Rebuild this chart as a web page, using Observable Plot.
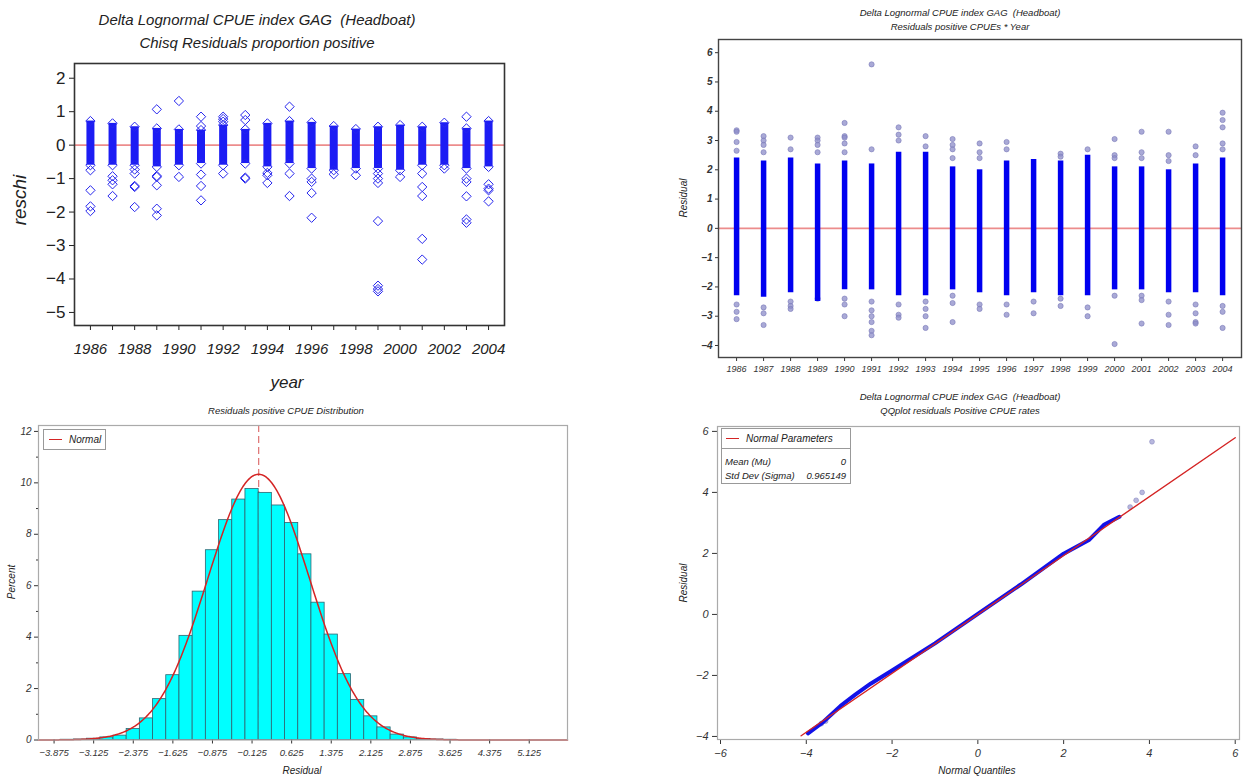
<!DOCTYPE html>
<html><head><meta charset="utf-8">
<script src="https://cdn.jsdelivr.net/npm/d3@7"></script>
<script src="https://cdn.jsdelivr.net/npm/@observablehq/plot@0.6"></script>
<style>
body{margin:0;background:#fff;width:1244px;height:778px;overflow:hidden;position:relative;font-family:"Liberation Sans",Arial,sans-serif;}
.abs{position:absolute;}
.t{position:absolute;font-style:italic;white-space:pre;color:#222;transform:translate(-50%,-50%);line-height:1;}
.l{position:absolute;font-style:italic;white-space:pre;color:#222;transform:translate(0,-50%);line-height:1;}
.r{position:absolute;font-style:italic;white-space:pre;color:#222;transform:translate(-100%,-50%);line-height:1;}
svg{overflow:visible;}
</style></head><body>
<div id="p1" class="abs" style="left:0;top:0"></div>
<div id="p2" class="abs" style="left:640px;top:0"></div>
<div id="p3" class="abs" style="left:0;top:395px"></div>
<div id="p4" class="abs" style="left:660px;top:395px"></div>
<script>
// ---------- Panel 1: Chisq residuals proportion positive ----------
const years = [1986,1987,1988,1989,1990,1991,1992,1993,1994,1995,1996,1997,1998,1999,2000,2001,2002,2003,2004];
const yearLabels = [1986,1988,1990,1992,1994,1996,1998,2000,2002,2004];
const p1YTicks = [-5,-4,-3,-2,-1,0,1,2];
const p1BandHigh = [0.72,0.65,0.55,0.5,0.47,0.45,0.6,0.47,0.65,0.72,0.68,0.57,0.48,0.55,0.6,0.55,0.67,0.5,0.72];
const p1BandLow  = [-0.6,-0.6,-0.6,-0.65,-0.6,-0.55,-0.6,-0.55,-0.65,-0.55,-0.7,-0.75,-0.7,-0.7,-0.75,-0.6,-0.6,-0.7,-0.65];
const p1Outliers = [
  [-0.75,-1.35,-1.83,-1.97],
  [-0.93,-1.05,-1.17,-1.52],
  [-0.73,-0.85,-1.22,-1.25,-1.85],
  [1.07,-0.92,-0.95,-1.2,-1.9,-2.1],
  [1.32,-0.95],
  [0.85,0.57,-0.88,-1.22,-1.65],
  [0.85,0.78,0.7,-0.85],
  [0.9,0.75,-0.97,-1.0],
  [-0.83,-0.9,-1.13],
  [1.15,-0.85,-1.52],
  [-1.0,-1.1,-1.43,-2.17],
  [-0.87],
  [-0.9],
  [-0.85,-1.0,-1.13,-2.27,-4.2,-4.3,-4.37],
  [-0.95],
  [-0.85,-1.25,-1.52,-2.8,-3.42],
  [-0.7],
  [0.85,-1.0,-1.1,-1.53,-2.22,-2.32],
  [-1.17,-1.3,-1.35,-1.68]
];

// ---------- Panel 2: Residuals positive CPUEs * Year ----------
const p2YTicks = [-4,-3,-2,-1,0,1,2,3,4,5,6];
const p2BandHigh = [2.4,2.3,2.4,2.2,2.3,2.2,2.6,2.6,2.1,2.0,2.3,2.35,2.3,2.5,2.1,2.1,2.0,2.2,2.4];
const p2BandLow  = [-2.3,-2.35,-2.2,-2.5,-2.1,-2.1,-2.3,-2.3,-2.1,-2.2,-2.3,-2.2,-2.3,-2.3,-2.1,-2.1,-2.2,-2.2,-2.3];
const p2Outliers = [
  [3.35,3.3,2.95,2.65,-2.6,-2.85,-3.1],
  [3.15,3.0,2.85,2.6,-2.7,-2.9,-3.3],
  [3.1,2.7,-2.5,-2.65,-2.75],
  [3.1,3.0,2.85,2.6,-2.4],
  [3.6,3.15,3.1,2.9,2.6,-2.4,-2.6,-3.0],
  [5.6,2.7,-2.5,-2.8,-3.0,-3.2,-3.5,-3.65],
  [3.45,3.2,3.0,-2.6,-2.95,-3.05],
  [3.15,2.8,-2.5,-2.75,-3.0,-3.4],
  [3.05,2.85,2.7,2.4,-2.3,-2.55,-3.2],
  [2.9,2.6,2.4,-2.6,-2.75],
  [2.95,2.7,-2.6,-2.95],
  [-2.5,-2.9],
  [2.55,2.45,-2.4,-2.65],
  [2.7,-2.7,-3.0],
  [3.05,2.5,2.4,-2.3,-3.95],
  [3.3,2.6,2.4,-2.3,-2.45,-3.25],
  [3.3,2.5,2.3,-2.5,-2.95,-3.3],
  [2.8,2.5,-2.6,-2.9,-3.2,-3.25],
  [3.95,3.7,3.45,2.9,2.7,-2.65,-2.85,-3.4]
];

// ---------- Panel 3: histogram of residuals ----------
const binLow = [-3.75,-3.5,-3.25,-3.0,-2.75,-2.5,-2.25,-2.0,-1.75,-1.5,-1.25,-1.0,-0.75,-0.5,-0.25,0,0.25,0.5,0.75,1.0,1.25,1.5,1.75,2.0,2.25,2.5,2.75,3.0,3.25,3.5];
const binPercent = [0.01,0.02,0.05,0.1,0.17,0.43,0.84,1.59,2.52,4.05,5.77,7.38,8.55,9.35,9.76,9.61,9.12,8.44,7.22,5.34,4.10,2.56,1.56,0.92,0.49,0.21,0.1,0.04,0.02,0.01];
const binWidth = 0.25;
const histTicks = [-3.875,-3.125,-2.375,-1.625,-0.875,-0.125,0.625,1.375,2.125,2.875,3.625,4.375,5.125];
const histYTicks = [0,2,4,6,8,10,12];
const histYMinor = [1,3,5,7,9,11];
const normalMean = 0;
const normalSd = 0.965149;

// ---------- Panel 4: QQ plot ----------
const qqNormalQ = [-3.96,-3.6,-3.2,-2.85,-2.5,-2.0,-1.0,0,1.0,2.0,2.3,2.6,2.95,3.3];
const qqResidual = [-3.9,-3.52,-3.0,-2.62,-2.27,-1.84,-0.95,0.02,0.98,1.99,2.22,2.45,2.95,3.2];
const qqOutQ = [-3.65,-3.55,3.55,3.69,3.83,4.06];
const qqOutR = [-3.58,-3.5,3.52,3.74,4.0,5.66];
const qqRefX = [-4.12,6.0];
const qqXTicks = [-6,-4,-2,0,2,4,6];
const qqYTicks = [-4,-2,0,2,4,6];

const FONT = "Liberation Sans, Arial, sans-serif";
const fmtInt = d3.format("d");

function txt(parent, cls, text, x, y, size, extra) {
  const d = document.createElement("div");
  d.className = cls;
  d.textContent = text;
  d.style.left = x + "px"; d.style.top = y + "px"; d.style.fontSize = size + "px";
  if (extra) Object.assign(d.style, extra);
  parent.appendChild(d);
  return d;
}
const body = document.body;

// Panel 1
const p1Bands = years.map((y,i)=>({year:y, low:p1BandLow[i], high:p1BandHigh[i]}));
const p1Points = years.flatMap((y,i)=>[
  {year:y, value:p1BandHigh[i]}, {year:y, value:p1BandLow[i]},
  ...p1Outliers[i].map(v=>({year:y, value:v}))
]);
const p1 = Plot.plot({
  width:520, height:400, marginLeft:74, marginRight:16, marginTop:63, marginBottom:75,
  x:{domain:[1985.28,2004.72]}, y:{domain:[-5.39,2.44]},
  style:{fontFamily:FONT, background:"transparent", color:"#222", overflow:"visible"},
  marks:[
    Plot.ruleY([0],{stroke:"#ec8c8c", strokeWidth:1.6}),
    Plot.ruleX(p1Bands,{x:"year", y1:"low", y2:"high", stroke:"#1c1cf4", strokeWidth:8}),
    Plot.dot(p1Points,{x:"year", y:"value", symbol:"diamond2", r:4.2, stroke:"#2626ee", strokeWidth:1, fill:"none"}),
    Plot.axisY({ticks:p1YTicks, tickSize:5, tickPadding:4, fontSize:17, tickFormat:fmtInt, label:null}),
    Plot.axisX({ticks:years, tickSize:5, tickPadding:13, fontSize:15, fontStyle:"italic", label:null,
      tickFormat:d=> yearLabels.includes(d) ? String(d) : ""}),
    Plot.frame({stroke:"#333", strokeWidth:1.6})
  ]
});
document.getElementById("p1").appendChild(p1);
txt(body,"t","Delta Lognormal CPUE index GAG  (Headboat)",257,19,15);
txt(body,"t","Chisq Residuals proportion positive",257,42,15);
txt(body,"t","reschi",19,200,19,{transform:"translate(-50%,-50%) rotate(-90deg)"});
txt(body,"t","year",287,382,17);

// Panel 2
const p2Bands = years.map((y,i)=>({year:y, low:p2BandLow[i], high:p2BandHigh[i]}));
const p2Points = years.flatMap((y,i)=>p2Outliers[i].map(v=>({year:y, value:v})));
const p2 = Plot.plot({
  width:604, height:395, marginLeft:78, marginRight:3, marginTop:39, marginBottom:38,
  x:{domain:[1985.33,2004.7]}, y:{domain:[-4.41,6.45]},
  style:{fontFamily:FONT, background:"transparent", color:"#333", overflow:"visible"},
  marks:[
    Plot.ruleY([0],{stroke:"#ec8c8c", strokeWidth:1.6}),
    Plot.dot(p2Points,{x:"year", y:"value", r:2.6, fill:"#8c8cc8", fillOpacity:0.75, stroke:"#7a7ab8", strokeWidth:0.6}),
    Plot.ruleX(p2Bands,{x:"year", y1:"low", y2:"high", stroke:"#0000f0", strokeWidth:5.5}),
    Plot.axisY({ticks:p2YTicks, tickSize:3, tickPadding:3, fontSize:10, fontStyle:"italic", fontWeight:"bold", tickFormat:fmtInt, label:null}),
    Plot.axisX({ticks:years, tickSize:4, tickPadding:4, fontSize:9, fontStyle:"italic", label:null, tickFormat:d=>String(d)}),
    Plot.frame({stroke:"#444", strokeWidth:1.4})
  ]
});
document.getElementById("p2").appendChild(p2);
txt(body,"t","Delta Lognormal CPUE index GAG  (Headboat)",960,13,9.5);
txt(body,"t","Residuals positive CPUEs * Year",960,27,9.5);
txt(body,"t","Residual",684,198,10,{transform:"translate(-50%,-50%) rotate(-90deg)"});

// Panel 3
const histTable = binLow.map((lo,i)=>({lo, hi:lo+binWidth, pct:binPercent[i]}));
const curveX = d3.range(-4.17, 5.86, 0.02);
const curve = curveX.map(x=>({x, y:100*binWidth*Math.exp(-0.5*((x-normalMean)/normalSd)**2)/(normalSd*Math.sqrt(2*Math.PI))}));
const p3 = Plot.plot({
  width:580, height:383, marginLeft:38, marginRight:13, marginTop:30, marginBottom:38.5,
  x:{domain:[-4.17,5.85]}, y:{domain:[0,12.23]},
  style:{fontFamily:FONT, background:"transparent", color:"#333", overflow:"visible"},
  marks:[
    Plot.ruleX([normalMean],{stroke:"#e07a7a", strokeWidth:1.3, strokeDasharray:"7,4"}),
    Plot.rectY(histTable,{x1:"lo", x2:"hi", y:"pct", fill:"#00ffff", stroke:"#2f6470", strokeWidth:0.8}),
    Plot.line(curve,{x:"x", y:"y", stroke:"#d42424", strokeWidth:1.5}),
    Plot.axisY({ticks:histYTicks, tickSize:4, tickPadding:3, fontSize:10, fontStyle:"italic", tickFormat:fmtInt, label:null}),
    Plot.axisY({ticks:histYMinor, tickSize:2, tickFormat:()=>"", label:null}),
    Plot.axisX({ticks:histTicks, tickSize:4, tickPadding:5, fontSize:9.5, fontStyle:"italic", label:null, tickFormat:d3.format(".3f")}),
    Plot.frame({stroke:"#aaa", strokeWidth:1.2})
  ]
});
document.getElementById("p3").appendChild(p3);
txt(body,"t","Residuals positive CPUE Distribution",286,411,9.5);
txt(body,"t","Percent",12,582,10,{transform:"translate(-50%,-50%) rotate(-90deg)"});
txt(body,"t","Residual",302,771,10);
const lg3 = document.createElement("div");
Object.assign(lg3.style,{position:"absolute",left:"43px",top:"429px",width:"61px",height:"19px",border:"1px solid #999",background:"#fff"});
body.appendChild(lg3);
const rl3 = document.createElement("div");
Object.assign(rl3.style,{position:"absolute",left:"5px",top:"9px",width:"13px",height:"0",borderTop:"1.5px solid #d42424"});
lg3.appendChild(rl3);
txt(lg3,"l","Normal",25,10,10);

// Panel 4
const qqTable = qqNormalQ.map((q,i)=>({q, r:qqResidual[i]}));
const qqOut = qqOutQ.map((q,i)=>({q, r:qqOutR[i]}));
const qqRef = qqRefX.map(x=>({x, y:normalMean + normalSd*x}));
const p4 = Plot.plot({
  width:584, height:383, marginLeft:57, marginRight:5, marginTop:31, marginBottom:39,
  x:{domain:[-6.07,6.1]}, y:{domain:[-4.1,6.16]},
  style:{fontFamily:FONT, background:"transparent", color:"#333", overflow:"visible"},
  marks:[
    Plot.dot(qqOut,{x:"q", y:"r", r:2.4, fill:"#9a9ad0", fillOpacity:0.7, stroke:"#8888c0", strokeWidth:0.6}),
    Plot.line(qqTable,{x:"q", y:"r", stroke:"#1212e8", strokeWidth:4, curve:"linear"}),
    Plot.line(qqRef,{x:"x", y:"y", stroke:"#d42424", strokeWidth:1.4}),
    Plot.axisY({ticks:qqYTicks, tickSize:5, tickPadding:4, fontSize:11, fontStyle:"italic", tickFormat:fmtInt, label:null}),
    Plot.axisX({ticks:qqXTicks, tickSize:5, tickPadding:5, fontSize:11, fontStyle:"italic", tickFormat:fmtInt, label:null}),
    Plot.frame({stroke:"#aaa", strokeWidth:1.2})
  ]
});
document.getElementById("p4").appendChild(p4);
txt(body,"t","Delta Lognormal CPUE index GAG  (Headboat)",960,397,9.5);
txt(body,"t","QQplot residuals Positive CPUE rates",960,411,9.5);
txt(body,"t","Residual",684,583,10,{transform:"translate(-50%,-50%) rotate(-90deg)"});
txt(body,"t","Normal Quantiles",977,771,10);
const lg4 = document.createElement("div");
Object.assign(lg4.style,{position:"absolute",left:"721px",top:"428px",width:"128px",height:"54px",border:"1px solid #999",background:"#fff"});
body.appendChild(lg4);
const div4 = document.createElement("div");
Object.assign(div4.style,{position:"absolute",left:"0",top:"19px",width:"128px",height:"0",borderTop:"1px solid #999"});
lg4.appendChild(div4);
const rl4 = document.createElement("div");
Object.assign(rl4.style,{position:"absolute",left:"4px",top:"9px",width:"13px",height:"0",borderTop:"1.5px solid #d42424"});
lg4.appendChild(rl4);
txt(lg4,"l","Normal Parameters",24,10,10);
txt(lg4,"l","Mean (Mu)",3,33,9.5);
txt(lg4,"r",String(normalMean),124,33,9.5);
txt(lg4,"l","Std Dev (Sigma)",3,47,9.5);
txt(lg4,"r",String(normalSd),124,47,9.5);
</script>
</body></html>
